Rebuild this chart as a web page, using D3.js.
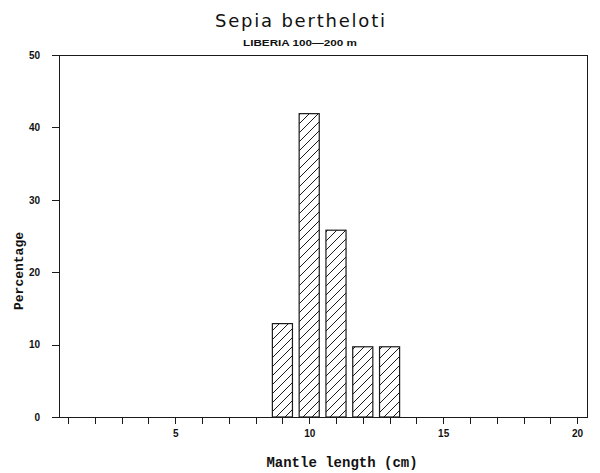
<!DOCTYPE html>
<html>
<head>
<meta charset="utf-8">
<script src="https://cdn.jsdelivr.net/npm/d3@7"></script>
<style>
    body { margin: 0; background: white; }
    svg { display: block; }
    .axis path, .axis line { stroke: #1a1a1a; stroke-width: 1; shape-rendering: crispEdges; }
    .axis text { font-family: "Liberation Sans", Arial, sans-serif; font-weight: bold; font-size: 10px; fill: #111; }
</style>
</head>
<body>
<svg id="chart" width="600" height="473"></svg>
<script>
var lengths = [9, 10, 11, 12, 13];
var percents = [12.9, 41.9, 25.8, 9.7, 9.7];
var xTicks = d3.range(1, 21);
var xTickLabels = [5, 10, 15, 20];
var yTicks = [0, 10, 20, 30, 40, 50];

function drawChart() {
    var svg = d3.select('#chart');
    var frame = { left: 59, right: 587, top: 55, bottom: 417 };
    var barWidth = 0.75;

    var xScale = d3.scaleLinear()
        .domain([0.66, 20.37])
        .range([frame.left, frame.right]);
    var yScale = d3.scaleLinear()
        .domain([0, 50])
        .range([frame.bottom, frame.top]);

    var defs = svg.append('defs');
    var pattern = defs.append('pattern')
        .attr('id', 'hatch')
        .attr('patternUnits', 'userSpaceOnUse')
        .attr('width', 9)
        .attr('height', 9);
    pattern.append('path')
        .attr('d', 'M0,9 L9,0 M-2,2 L2,-2 M7,11 L11,7')
        .attr('stroke', '#1a1a1a')
        .attr('stroke-width', 1);

    // frame
    svg.append('rect')
        .attr('x', frame.left)
        .attr('y', frame.top)
        .attr('width', frame.right - frame.left)
        .attr('height', frame.bottom - frame.top)
        .attr('fill', 'none')
        .attr('stroke', '#1a1a1a')
        .attr('stroke-width', 1)
        .attr('shape-rendering', 'crispEdges');

    svg.selectAll('.bar')
        .data(lengths)
        .enter().append('rect')
        .attr('class', 'bar')
        .attr('x', function(d) { return xScale(d - barWidth / 2); })
        .attr('width', function(d) { return xScale(d + barWidth / 2) - xScale(d - barWidth / 2); })
        .attr('y', function(d, i) { return yScale(percents[i]); })
        .attr('height', function(d, i) { return yScale(0) - yScale(percents[i]); })
        .attr('fill', 'url(#hatch)')
        .attr('stroke', '#1a1a1a')
        .attr('stroke-width', 1.2);

    var xAxis = d3.axisBottom(xScale)
        .tickValues(xTicks)
        .tickSize(7)
        .tickSizeOuter(0)
        .tickFormat(function(d) { return xTickLabels.indexOf(d) >= 0 ? d : ''; });
    var gx = svg.append('g').attr('class', 'axis')
        .attr('transform', 'translate(' + [0, frame.bottom] + ')')
        .call(xAxis);
    gx.select('.domain').remove();
    gx.selectAll('text').attr('dy', '1.05em').attr('y', 9);

    var yAxis = d3.axisLeft(yScale)
        .tickValues(yTicks)
        .tickSize(7)
        .tickSizeOuter(0);
    var gy = svg.append('g').attr('class', 'axis')
        .attr('transform', 'translate(' + [frame.left, 0] + ')')
        .call(yAxis);
    gy.select('.domain').remove();
    gy.selectAll('text').attr('x', -19);

    svg.append('text')
        .attr('x', 300)
        .attr('y', 27)
        .attr('text-anchor', 'middle')
        .attr('textLength', 170)
        .style('font-family', '"DejaVu Sans", sans-serif')
        .style('font-size', '18px')
        .style('fill', '#111')
        .text('Sepia bertheloti');

    svg.append('text')
        .attr('x', 300)
        .attr('y', 46)
        .attr('text-anchor', 'middle')
        .attr('textLength', 114)
        .attr('lengthAdjust', 'spacingAndGlyphs')
        .style('font-family', '"Liberation Sans", Arial, sans-serif')
        .style('font-weight', 'bold')
        .style('font-size', '8.5px')
        .style('fill', '#111')
        .text('LIBERIA 100\u2014200 m');

    svg.append('text')
        .attr('x', 342)
        .attr('y', 467)
        .attr('text-anchor', 'middle')
        .style('font-family', '"Liberation Mono", "DejaVu Sans Mono", monospace')
        .style('font-weight', 'bold')
        .style('font-size', '14px')
        .style('fill', '#111')
        .text('Mantle length (cm)');

    svg.append('text')
        .attr('transform', 'translate(23,271) rotate(-90)')
        .attr('text-anchor', 'middle')
        .style('font-family', '"Liberation Mono", "DejaVu Sans Mono", monospace')
        .style('font-weight', 'bold')
        .style('font-size', '13px')
        .style('fill', '#111')
        .text('Percentage');
}

drawChart();
</script>
</body>
</html>
